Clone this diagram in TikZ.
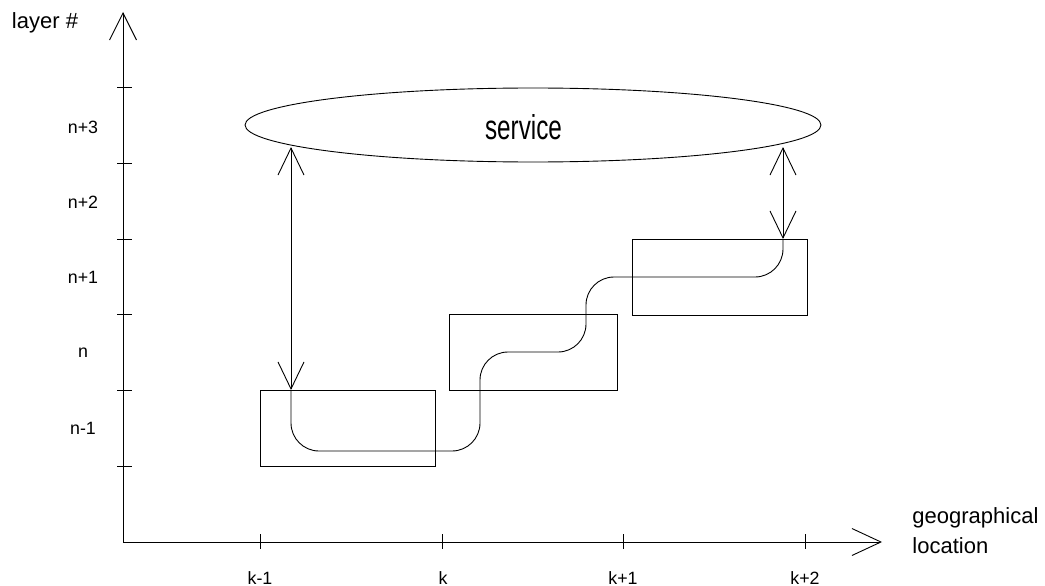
\documentclass[tikz,border=0pt]{standalone}
\usepackage{fontspec}
\setmainfont{Liberation Sans}
\usetikzlibrary{arrows.meta,shapes.geometric}
\begin{document}
\begin{tikzpicture}[x=1pt,y=-1pt,line width=0.9pt,
  barb/.style={-{Straight Barb[length=27pt,width=27pt,line width=0.9pt]}},
  dbarb/.style={{Straight Barb[length=27pt,width=26pt,line width=0.9pt]}-{Straight Barb[length=27pt,width=26pt,line width=0.9pt]}},
  box/.style={draw,rectangle,inner sep=0pt,minimum height=76pt},
  lbl/.style={inner sep=0pt,font=\fontsize{17.8}{20}\selectfont},
  big/.style={inner sep=0pt,font=\fontsize{22}{28}\selectfont},
  tick/.style={line width=0.9pt}]
\useasboundingbox (0,0) rectangle (1045,586);
% axes
\coordinate (O) at (123,542);
\coordinate (ytop) at (123,12);
\coordinate (xend) at (882,542);
\draw[barb] (O) -- (ytop);
\draw[-{Straight Barb[length=29pt,width=27pt,line width=0.9pt]}] (O) -- (xend);
% y ticks
\foreach \y in {87,163,239,314,390,466} \draw[tick] (117,\y) -- (132,\y);
% x ticks
\foreach \x in {260,442,623,805} \draw[tick] (\x,534) -- (\x,549);
% y labels
\node[lbl] (ln3) at (83,127) {n+3};
\node[lbl] (ln2) at (83,202) {n+2};
\node[lbl] (ln1) at (83,277) {n+1};
\node[lbl] (ln0) at (83,353) {n};
\node[lbl] (lnm) at (83,428) {n-1};
\node[big] (ylab) at (45,23) {layer \#};
% x labels
\node[lbl,anchor=base] (lkm) at (260,584) {k-1};
\node[lbl,anchor=base] (lk0) at (443,584) {k};
\node[lbl,anchor=base] (lk1) at (623,584) {k+1};
\node[lbl,anchor=base] (lk2) at (805,584) {k+2};
\node[big,anchor=base west] (xlab1) at (912,523) {geographical};
\node[big,anchor=base west] (xlab2) at (912,553) {location};
% service ellipse
\node[draw,ellipse,inner sep=0pt,minimum width=576pt,minimum height=74pt] (service) at (533,125) {};
\node[inner sep=0pt] (servicetext) at (523.5,127.5) {\scalebox{1}[1.42]{\fontsize{24.3}{28}\selectfont service}};
% boxes
\node[box,minimum width=175pt] (b1) at (347.5,428) {};
\node[box,minimum width=168pt] (b2) at (533,352) {};
\node[box,minimum width=175pt] (b3) at (719.5,277) {};
% connection points
\coordinate (e1) at (291,147);
\coordinate (a1) at (291,390);
\coordinate (e2) at (783,147);
\coordinate (a2) at (783,239);
\draw[dbarb] (e1) -- (a1);
\draw[dbarb] (e2) -- (a2);
% path through boxes
\draw[rounded corners=28pt] (a1) -- (291,451) -- (480,451) -- (480,352) -- (586,352) -- (586,277) -- (783,277) -- (a2);
\end{tikzpicture}
\end{document}
